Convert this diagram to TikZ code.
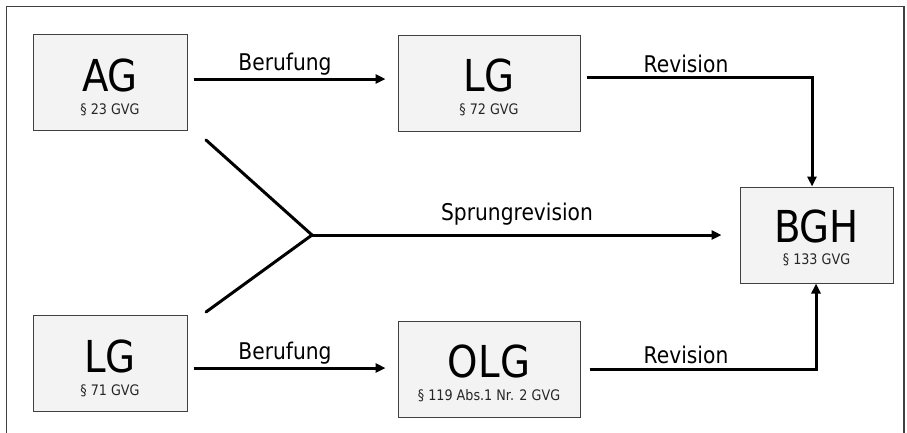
\documentclass[tikz,border=0pt]{standalone}
\usepackage{fontspec}
\setmainfont[FakeStretch=0.88]{DejaVu Sans}
\usetikzlibrary{arrows.meta,calc}
\definecolor{boxfill}{HTML}{F3F3F3}
\definecolor{boxline}{HTML}{404040}
\tikzset{
  court/.style={draw=boxline,fill=boxfill,line width=1pt,minimum width=#1,minimum height=96pt,inner sep=0pt},
  court/.default=154pt,
  big/.style={anchor=base,inner sep=0pt,font=\fontsize{44}{44}\selectfont},
  small/.style={anchor=base,inner sep=0pt,text=black!85,font=\fontsize{14.5}{14.5}\selectfont},
  lbl/.style={anchor=base,inner sep=0pt,font=\fontsize{23}{23}\selectfont},
  arr/.style={line width=3pt,-{Triangle[length=10pt,width=9pt]}},
  ln/.style={line width=3pt,line cap=round}
}
\begin{document}
\begin{tikzpicture}[x=1pt,y=-1pt]
\useasboundingbox (0,0) rectangle (907,432);
\draw[boxline,line width=1.3pt] (6.5,6.5) rectangle (904,445);
% boxes
\node[court=154pt] (AG) at (110,82.5) {};
\node[court=182pt] (LGt) at (489,83) {};
\node[court=153pt] (BGH) at (816.5,235) {};
\node[court=154pt] (LGb) at (110,363.5) {};
\node[court=182pt] (OLG) at (489,369) {};
% texts
\node[big] (tAG) at ($(AG.north)+(0,57)$) {AG};
\node[small] (sAG) at ($(AG.north)+(0,80)$) {§ 23 GVG};
\node[big] (tLGt) at ($(LGt.north)+(0,57)$) {LG};
\node[small] (sLGt) at ($(LGt.north)+(0,80)$) {§ 72 GVG};
\node[big] (tBGH) at ($(BGH.north)+(0,56)$) {BGH};
\node[small] (sBGH) at ($(BGH.north)+(0,78)$) {§ 133 GVG};
\node[big] (tLGb) at ($(LGb.north)+(0,57)$) {LG};
\node[small] (sLGb) at ($(LGb.north)+(0,80)$) {§ 71 GVG};
\node[big] (tOLG) at ($(OLG.north)+(0,57)$) {OLG};
\node[small] (sOLG) at ($(OLG.north)+(0,80)$) {§ 119 Abs.1 Nr. 2 GVG};
% Berufung top
\draw[arr] ($(AG.east)+(6,-3.5)$) -- ($(LGt.west |- AG.east)+(-12,-3.5)$);
\node[lbl] (b1) at (285,70) {Berufung};
% Berufung bottom
\draw[arr] ($(LGb.east)+(6,4.5)$) -- ($(OLG.west |- LGb.east)+(-12,4.5)$);
\node[lbl] (b2) at (285,359) {Berufung};
% Revision top
\coordinate (rt) at (812,77);
\draw[arr] ($(LGt.east |- rt)+(6,0)$) -- (rt) -- (rt |- BGH.north);
\node[lbl] (r1) at (686,72) {Revision};
% Revision bottom
\coordinate (rb) at (816,369);
\draw[arr] ($(OLG.east |- rb)+(9,0)$) -- (rb) -- (rb |- BGH.south);
\node[lbl] (r2) at (686,363) {Revision};
% Sprungrevision
\coordinate (J) at (312,235);
\coordinate (u) at (206,140);
\coordinate (d) at (206,312);
\draw[ln] (u) -- (J) -- (d);
\draw[arr] (J) -- ($(BGH.west |- J)+(-18,0)$);
\node[lbl] (sp) at (517,220) {Sprungrevision};
\end{tikzpicture}
\end{document}
